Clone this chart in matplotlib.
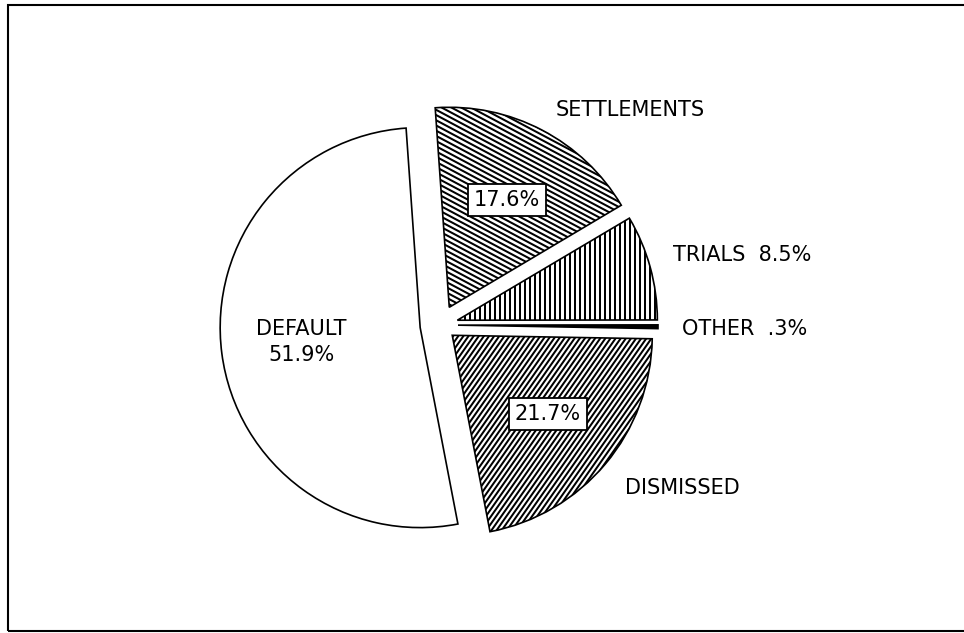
import matplotlib
matplotlib.use("Agg")
import numpy as np
import matplotlib.pyplot as plt
from matplotlib.patches import Rectangle
from matplotlib.collections import LineCollection

# ---- data ----
categories = ["OTHER", "TRIALS", "SETTLEMENTS", "DEFAULT", "DISMISSED"]
shares = [0.3, 8.5, 17.6, 51.9, 21.7]
share_labels = [".3%", "8.5%", "17.6%", "51.9%", "21.7%"]

# ---- style ----
explode_frac = [0.09, 0.09, 0.10, 0.10, 0.08]
# (angle of hatch lines in degrees, perpendicular spacing in px) or None
hatch_specs = [None, (90, 5.0), (-28, 4.6), None, (55, 4.2)]
faces = ["black", "white", "white", "white", "white"]

plt.rcParams["font.family"] = ["DejaVu Sans"]

W, H = 964, 633
fig = plt.figure(figsize=(W / 100, H / 100), dpi=100)
ax = fig.add_axes([0, 0, 1, 1])

R = 200
cx, cy = 440, H - 325
wedges, _ = ax.pie(shares, explode=[e * R for e in explode_frac], startangle=-1,
                   counterclock=True, radius=R, center=(cx, cy), frame=True,
                   wedgeprops=dict(edgecolor="black", linewidth=1.2))

ax.set_xlim(0, W)
ax.set_ylim(0, H)
ax.set_aspect("equal")
ax.axis("off")


def add_hatch(wedge, angle, spacing):
    ext = wedge.get_path().get_extents(wedge.get_patch_transform())
    c = np.array([(ext.x0 + ext.x1) / 2, (ext.y0 + ext.y1) / 2])
    L = np.hypot(ext.width, ext.height)
    a = np.deg2rad(angle)
    d = np.array([np.cos(a), np.sin(a)])
    n = np.array([-np.sin(a), np.cos(a)])
    segs = []
    for k in np.arange(-L / 2, L / 2 + spacing, spacing):
        p = c + k * n
        segs.append([p - L * d, p + L * d])
    lc = LineCollection(segs, colors="black", linewidths=1.45, zorder=wedge.get_zorder() + 0.1)
    ax.add_collection(lc)
    lc.set_clip_path(wedge)


for w, spec, fc in zip(wedges, hatch_specs, faces):
    w.set_facecolor(fc)
    if spec is not None:
        add_hatch(w, *spec)

fs = 15
box = dict(boxstyle="square,pad=0.3", facecolor="white", edgecolor="black", linewidth=1.3)
tz = 5
ax.text(630, H - 110, categories[2], ha="center", va="center", fontsize=fs, zorder=tz)
ax.text(507, H - 200, share_labels[2], ha="center", va="center", fontsize=fs, bbox=box, zorder=tz)
ax.text(742, H - 255, f"{categories[1]}  {share_labels[1]}", ha="center", va="center", fontsize=fs, zorder=tz)
ax.text(745, H - 329, f"{categories[0]}  {share_labels[0]}", ha="center", va="center", fontsize=fs, zorder=tz)
ax.text(548, H - 414, share_labels[4], ha="center", va="center", fontsize=fs, bbox=box, zorder=tz)
ax.text(682, H - 488, categories[4], ha="center", va="center", fontsize=fs, zorder=tz)
ax.text(301, H - 329, categories[3], ha="center", va="center", fontsize=fs, zorder=tz)
ax.text(301, H - 355, share_labels[3], ha="center", va="center", fontsize=fs, zorder=tz)

# page frame (top, left, bottom)
ax.add_patch(Rectangle((8, 2), W + 10, H - 7, fill=False, edgecolor="black",
                       linewidth=1.5, clip_on=False))

fig.savefig("out.png", dpi=100, facecolor="white")
